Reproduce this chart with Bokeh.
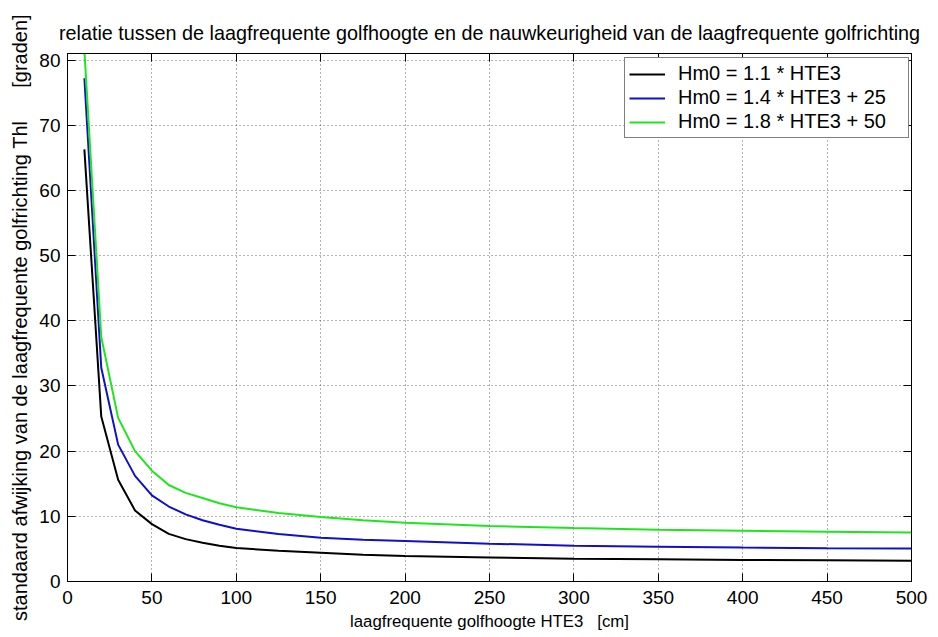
from bokeh.plotting import figure
from bokeh.models import Range1d, LinearAxis, FixedTicker, Legend, LegendItem
from bokeh.embed import file_html
from bokeh.resources import INLINE

# laagfrequente golfhoogte HTE3 [cm]
hte3 = [10, 20, 30, 40, 50, 60, 70, 80, 90, 100, 125, 150, 175, 200,
        250, 300, 350, 400, 450, 500]

# standaard afwijking Thl [graden] for the three Hm0 relations
thl_a = [66.3, 25.3, 15.6, 10.9, 8.8, 7.3, 6.5, 5.95, 5.5, 5.15, 4.7, 4.4,
         4.1, 3.9, 3.7, 3.5, 3.4, 3.3, 3.25, 3.2]
thl_b = [77.2, 32.8, 21.0, 16.2, 13.2, 11.5, 10.3, 9.4, 8.7, 8.1, 7.3, 6.7,
         6.4, 6.2, 5.8, 5.5, 5.35, 5.2, 5.1, 5.05]
thl_c = [81.5, 37.5, 25.1, 20.0, 17.0, 14.8, 13.6, 12.8, 12.0, 11.4, 10.5,
         9.9, 9.4, 9.0, 8.5, 8.2, 7.95, 7.8, 7.65, 7.5]

labels = ["Hm0 = 1.1 * HTE3", "Hm0 = 1.4 * HTE3 + 25", "Hm0 = 1.8 * HTE3 + 50"]
colors = ["#000000", "#1010cc", "#1ee61e"]

x_ticks = [0, 50, 100, 150, 200, 250, 300, 350, 400, 450, 500]
y_ticks = [0, 10, 20, 30, 40, 50, 60, 70, 80]

FONT = "Liberation Sans"
NB = "\u00a0"

p = figure(width=938, height=637, output_backend="svg", toolbar_location=None,
           x_range=Range1d(0, 500), y_range=Range1d(0, 81),
           min_border_left=67, min_border_right=27,
           min_border_top=53, min_border_bottom=56,
           background_fill_color="white", border_fill_color="white")

p.title.text = "relatie tussen de laagfrequente golfhoogte en de nauwkeurigheid van de laagfrequente golfrichting"
p.title.text_font = FONT
p.title.text_font_size = "19.8px"
p.title.text_font_style = "normal"
p.title.align = "center"
p.title.text_color = "black"
p.title.standoff = 19
p.title.offset = 5

p.outline_line_color = "black"
p.outline_line_width = 1

def style_axis(ax, ticks, show_labels=True):
    ax.ticker = FixedTicker(ticks=ticks)
    ax.axis_line_color = "black"
    ax.major_tick_line_color = "black"
    ax.major_tick_in = 8
    ax.major_tick_out = 0
    ax.minor_tick_line_color = None
    ax.major_label_text_font = FONT
    if show_labels:
        ax.major_label_text_font_size = "19px"
        ax.major_label_text_color = "black"
    else:
        # tick marks only on the mirrored sides of the box
        ax.major_label_text_font_size = "1px"
        ax.major_label_text_color = None
        ax.major_label_standoff = 0

style_axis(p.xaxis[0], x_ticks)
style_axis(p.yaxis[0], y_ticks)
p.xaxis[0].major_label_standoff = 9
p.yaxis[0].major_label_standoff = 7

p.xaxis[0].axis_label = "laagfrequente golfhoogte HTE3" + NB * 3 + "[cm]"
p.yaxis[0].axis_label = ("standaard afwijking van de laagfrequente golfrichting Thl"
                         + NB * 6 + "[graden]")
for ax in (p.xaxis[0], p.yaxis[0]):
    ax.axis_label_text_font = FONT
    ax.axis_label_text_font_style = "normal"
    ax.axis_label_text_color = "black"
p.xaxis[0].axis_label_text_font_size = "16.8px"
p.yaxis[0].axis_label_text_font_size = "20px"
p.xaxis[0].axis_label_standoff = 5
p.yaxis[0].axis_label_standoff = 5

right_ax = LinearAxis()
top_ax = LinearAxis()
style_axis(right_ax, y_ticks, show_labels=False)
style_axis(top_ax, x_ticks, show_labels=False)
p.add_layout(right_ax, "right")
p.add_layout(top_ax, "above")

p.xgrid.ticker = FixedTicker(ticks=x_ticks)
p.ygrid.ticker = FixedTicker(ticks=y_ticks)
for g in (p.xgrid, p.ygrid):
    g.grid_line_color = "black"
    g.grid_line_alpha = 0.6
    g.grid_line_dash = "1 3"
    g.grid_line_width = 1

renderers = []
for ys, c in zip([thl_a, thl_b, thl_c], colors):
    r = p.line(hte3, ys, line_color=c, line_width=2)
    renderers.append(r)

legend = Legend(items=[LegendItem(label=l, renderers=[r]) for l, r in zip(labels, renderers)],
                location=(557, 443))
legend.label_text_font = FONT
legend.label_text_font_size = "20px"
legend.label_text_color = "black"
legend.glyph_width = 36
legend.glyph_height = 20
legend.label_height = 20
legend.label_width = 226
legend.spacing = 1
legend.padding = 4
legend.margin = 0
legend.label_standoff = 13
legend.border_line_color = "black"
legend.border_line_width = 1
legend.background_fill_color = "white"
legend.background_fill_alpha = 1
p.add_layout(legend)

open("out.html", "w").write(file_html(p, INLINE))
